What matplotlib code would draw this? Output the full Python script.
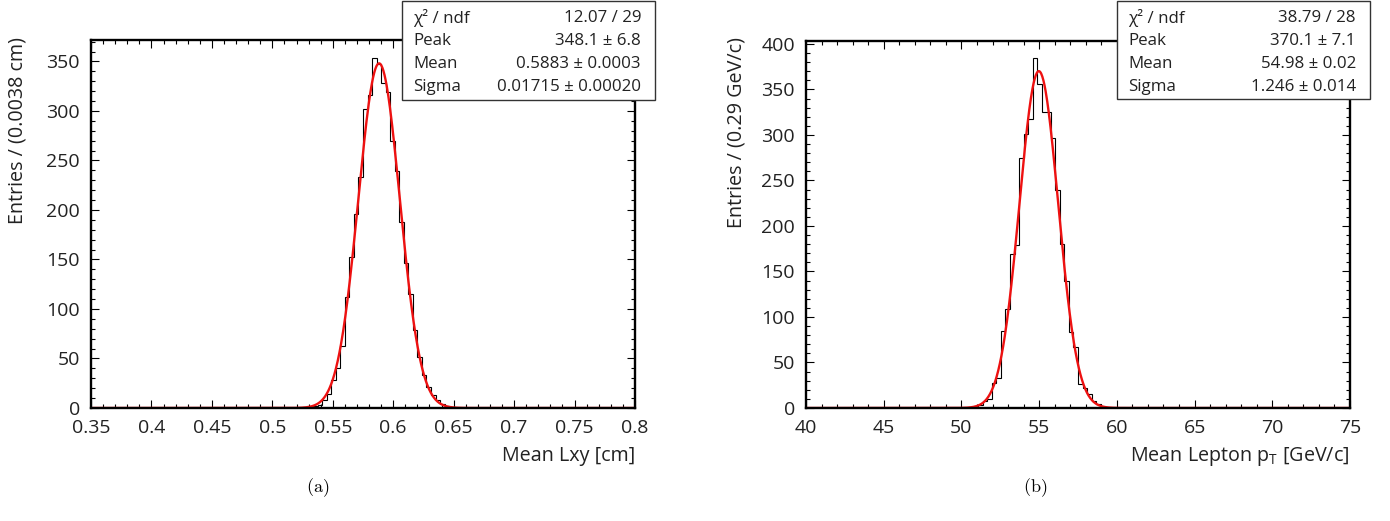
import numpy as np
import matplotlib
matplotlib.use("Agg")
import matplotlib.pyplot as plt
from matplotlib.patches import Rectangle
from matplotlib.ticker import MultipleLocator, FuncFormatter

plt.rcParams['font.family'] = ['Open Sans', 'DejaVu Sans']
plt.rcParams['mathtext.fontset'] = 'custom'
plt.rcParams['mathtext.rm'] = 'Open Sans'
plt.rcParams['mathtext.it'] = 'Open Sans:italic'

W, H = 1390, 521

# (a) mean Lxy: 120 bins on [0.35, 0.8], counts of the non-empty bins from bin 49
lxy_range = (0.35, 0.8)
lxy_nbins = 120
lxy_first = 49
lxy_counts = [2, 3, 8, 14, 28, 40, 63, 112, 153, 196, 233, 302, 316, 354, 347,
              328, 319, 270, 239, 188, 146, 115, 79, 52, 33, 21, 13, 8, 4, 2, 1]
lxy_peak, lxy_mean, lxy_sigma = 348.1, 0.5883, 0.01715
lxy_stats = [("χ² / ndf", "12.07 / 29"),
             ("Peak", "348.1 ± 6.8"),
             ("Mean", "0.5883 ± 0.0003"),
             ("Sigma", "0.01715 ± 0.00020")]

# (b) mean lepton pT: 120 bins on [40, 75], counts of the non-empty bins from bin 36
pt_range = (40, 75)
pt_nbins = 120
pt_first = 36
pt_counts = [1, 2, 3, 8, 10, 28, 33, 85, 109, 169, 179, 275, 301, 318, 384,
             356, 325, 325, 297, 239, 180, 140, 83, 67, 26, 22, 15, 8, 4, 1]
pt_peak, pt_mean, pt_sigma = 370.1, 54.98, 1.246
pt_stats = [("χ² / ndf", "38.79 / 28"),
            ("Peak", "370.1 ± 7.1"),
            ("Mean", "54.98 ± 0.02"),
            ("Sigma", "1.246 ± 0.014")]


def fig_box(x0, y0, x1, y1):
    # pixel box (top-left origin) -> figure fraction rect
    return [x0 / W, 1 - y1 / H, (x1 - x0) / W, (y1 - y0) / H]


fig = plt.figure(figsize=(W / 100, H / 100), dpi=100)
ax_a = fig.add_axes(fig_box(91, 40, 635, 408))
ax_b = fig.add_axes(fig_box(806, 41, 1350, 408))


def draw_panel(ax, rng, nbins, first, counts, peak, mean, sigma, major, minor, fmt):
    edges = np.linspace(rng[0], rng[1], nbins + 1)
    values = np.zeros(nbins)
    values[first:first + len(counts)] = counts
    ax.stairs(values, edges, color="black", lw=0.8, baseline=None)
    # gaussian fit curve drawn over the full range
    xs = np.linspace(rng[0], rng[1], 1000)
    ax.plot(xs, peak * np.exp(-0.5 * ((xs - mean) / sigma) ** 2), color="#ee1111", lw=1.7)
    ax.set_xlim(rng)
    ax.set_ylim(0, 1.05 * values.max())
    ax.xaxis.set_major_locator(MultipleLocator(major))
    ax.xaxis.set_minor_locator(MultipleLocator(minor))
    ax.yaxis.set_major_locator(MultipleLocator(50))
    ax.yaxis.set_minor_locator(MultipleLocator(10))
    ax.xaxis.set_major_formatter(FuncFormatter(fmt))
    for s in ax.spines.values():
        s.set_linewidth(1.7)
    ax.tick_params(which="both", direction="in", top=True, right=True,
                   width=0.8, colors="black", labelsize=14)
    ax.tick_params(axis="x", which="major", length=5.5, pad=8)
    ax.tick_params(axis="x", which="minor", length=2.7)
    ax.tick_params(axis="y", which="major", length=6, pad=8)
    ax.tick_params(axis="y", which="minor", length=3)
    for lbl in ax.get_xticklabels() + ax.get_yticklabels():
        lbl.set_color("#222222")


draw_panel(ax_a, lxy_range, lxy_nbins, lxy_first, lxy_counts,
           lxy_peak, lxy_mean, lxy_sigma, 0.05, 0.01, lambda v, p: "%g" % round(v, 4))
draw_panel(ax_b, pt_range, pt_nbins, pt_first, pt_counts,
           pt_peak, pt_mean, pt_sigma, 5, 1, lambda v, p: "%g" % round(v, 4))

# axis titles (ROOT style: at the end of the axis)
fig.text(18 / W, 1 - 37 / H, "Entries / (0.0038 cm)", rotation=90, ha="center", va="top",
         fontsize=14.2, color="#222222")
fig.text(737 / W, 1 - 37 / H, "Entries / (0.29 GeV/c)", rotation=90, ha="center", va="top",
         fontsize=14.2, color="#222222")
fig.text(635 / W, 1 - 456 / H, "Mean Lxy [cm]", ha="right", va="center",
         fontsize=14.2, color="#222222")
fig.text(1350 / W, 1 - 456 / H, r"Mean Lepton p$_{\mathrm{T}}$ [GeV/c]", ha="right", va="center",
         fontsize=14.2, color="#222222")

# sub-figure captions
fig.text(318 / W, 1 - 488 / H, r"$\mathrm{(a)}$", ha="center", va="center", fontsize=13,
         math_fontfamily="cm")
fig.text(1035 / W, 1 - 488 / H, r"$\mathrm{(b)}$", ha="center", va="center", fontsize=13,
         math_fontfamily="cm")


def stats_box(x0, x1, y1, rows):
    fig.add_artist(Rectangle((x0 / W, 1 - y1 / H), (x1 - x0) / W, (y1 - 1) / H,
                             transform=fig.transFigure, facecolor="white",
                             edgecolor="#333333", lw=1.0, zorder=10))
    row_y = [18, 41, 64, 87]
    for (name, val), y in zip(rows, row_y):
        fig.text((x0 + 11) / W, 1 - y / H, name, ha="left", va="center",
                 fontsize=12.2, color="#222222", zorder=11)
        fig.text((x1 - 14) / W, 1 - y / H, val, ha="right", va="center",
                 fontsize=12.2, color="#222222", zorder=11)


stats_box(402, 655, 100, lxy_stats)
stats_box(1117, 1370, 99, pt_stats)

fig.savefig("out.png", dpi=100)
